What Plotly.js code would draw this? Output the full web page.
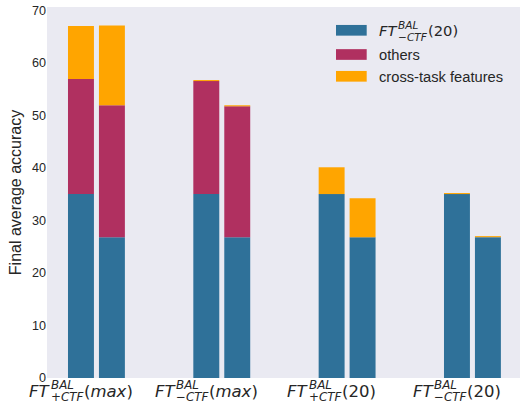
<!DOCTYPE html>
<html><head><meta charset="utf-8">
<script src="https://cdn.plot.ly/plotly-3.0.1.min.js"></script>
<style>html,body{margin:0;padding:0;background:#fff}#chart{width:520px;height:404px}</style>
</head><body><div id="chart"></div>
<script>
// ---- data ----
const categories = ["FT+CTF(max)", "FT-CTF(max)", "FT+CTF(20)", "FT-CTF(20)"];
const labelMain = ["FT", "FT", "FT", "FT"];
const labelSup = ["BAL", "BAL", "BAL", "BAL"];
const labelSub = ["+CTF", "\u2212CTF", "+CTF", "\u2212CTF"];
const labelTail = ["(max)", "(max)", "(20)", "(20)"];
const seriesNames = ["FT-CTF(20)", "others", "cross-task features"];
const legendMain = "FT", legendSup = "BAL", legendSub = "\u2212CTF", legendTail = "(20)";
const baseBar1 = [35.0, 35.0, 35.0, 35.0];
const baseBar2 = [26.8, 26.8, 26.8, 26.8];
const othersBar1 = [21.9, 21.5, 0, 0];
const othersBar2 = [25.1, 24.9, 0, 0];
const ctfBar1 = [10.1, 0.2, 5.1, 0.2];
const ctfBar2 = [15.2, 0.2, 7.4, 0.2];
const yTicks = [0, 10, 20, 30, 40, 50, 60, 70];
const colors = ["#2f7199", "#b03060", "#ffa500"];

// ---- geometry helpers (plot area in px) ----
const W = 520, H = 404;
const M = {l: 47, r: 0, t: 7, b: 26};
const X0 = M.l, X1 = W - M.r, Y0 = M.t, Y1 = H - M.b;
const px = x => (x - X0) / (X1 - X0);
const py = y => (Y1 - y) / (Y1 - Y0);
const TXT = "#262626";
const MATHFONT = "DejaVu Sans";
const SANS = "Liberation Sans";

const ctx = document.createElement("canvas").getContext("2d");
function tw(s, size, italic) {
  ctx.font = (italic ? "italic " : "") + size + 'px "' + MATHFONT + '"';
  return ctx.measureText(s).width;
}
function mathHtml(s) { return s.replace(/[A-Za-z]+/g, m => "<i>" + m + "</i>"); }
function mathWidth(s, size) {
  let w = 0;
  s.replace(/([A-Za-z]+)|([^A-Za-z]+)/g, (m, a) => { w += tw(m, size, !!a); return m; });
  return w;
}
// builds annotations for main^{sup}_{sub}tail
function mathLabel(anns, o) {
  const s = o.size, ss = o.size * 0.72;
  const wMain = mathWidth(o.main, s), wSup = mathWidth(o.sup, ss), wSub = mathWidth(o.sub, ss);
  const wTail = mathWidth(o.tail, s);
  const g1 = 0.1 * s, g2 = 0.06 * s;
  const total = wMain + g1 + Math.max(wSup, wSub) + g2 + wTail;
  let start = o.center ? -total / 2 : 0;
  const mk = (text, size, shift, baseline) => ({
    xref: o.xref, x: o.x, yref: "paper", y: py(baseline - 0.346 * size),
    xanchor: "left", yanchor: "middle", xshift: start + shift, showarrow: false,
    borderpad: 0, borderwidth: 0,
    text: mathHtml(text), font: {family: MATHFONT, size: size, color: TXT}
  });
  anns.push(mk(o.main, s, 0, o.baseline));
  anns.push(mk(o.sup, ss, wMain + g1, o.baseline - o.supUp * s));
  anns.push(mk(o.sub, ss, wMain + g1, o.baseline + o.subDown * s));
  anns.push(mk(o.tail, s, wMain + g1 + Math.max(wSup, wSub) + g2, o.baseline));
}

// ---- traces ----
const barDefs = [
  {seg: [baseBar1, othersBar1, ctfBar1], offset: -0.1035},
  {seg: [baseBar2, othersBar2, ctfBar2], offset: 0.1435}
];
const traces = [];
barDefs.forEach(b => {
  let cum = categories.map(() => 0);
  b.seg.forEach((vals, si) => {
    traces.push({
      type: "bar", x: categories, y: vals, base: cum.slice(),
      offset: b.offset, width: 0.207, name: seriesNames[si],
      marker: {color: colors[si], line: {width: 0}},
      showlegend: false, hoverinfo: "skip"
    });
    cum = cum.map((c, i) => c + vals[i]);
  });
});

// ---- annotations: x tick labels ----
const anns = [];
categories.forEach((c, i) => {
  mathLabel(anns, {xref: "x", x: c, center: true, baseline: 397.5, size: 16.5,
    supUp: 0.52, subDown: 0.2,
    main: labelMain[i], sup: labelSup[i], sub: labelSub[i], tail: labelTail[i]});
});

// ---- custom legend ----
const legRows = [30.3, 54.5, 76.3];
const shapes = [];
legRows.forEach((cy, i) => {
  shapes.push({type: "rect", xref: "paper", yref: "paper",
    x0: px(336), x1: px(366.7), y0: py(cy + 5.35), y1: py(cy - 5.35),
    fillcolor: colors[i], line: {width: 0}});
});
mathLabel(anns, {xref: "paper", x: px(379), center: false, baseline: 35.7, size: 14.7,
  supUp: 0.46, subDown: 0.32,
  main: legendMain, sup: legendSup, sub: legendSub, tail: legendTail});
[[seriesNames[1], 60], [seriesNames[2], 82.3]].forEach(([t, base]) => {
  anns.push({xref: "paper", x: px(379), yref: "paper", y: py(base - 0.3465 * 14.7),
    xanchor: "left", yanchor: "middle", showarrow: false, borderpad: 0, borderwidth: 0,
    text: t, font: {family: SANS, size: 14.7, color: TXT}});
});

const layout = {
  width: W, height: H, margin: M,
  paper_bgcolor: "#ffffff", plot_bgcolor: "#eaeaf2",
  barmode: "overlay", showlegend: false,
  font: {family: SANS, color: TXT},
  xaxis: {type: "category", categoryarray: categories, range: [-0.271, 3.503],
    showticklabels: false, showgrid: false, zeroline: false, ticks: "", showline: false},
  yaxis: {range: [0, 70.6], tickvals: yTicks, ticktext: yTicks.map(String),
    showgrid: false, zeroline: false, ticks: "", showline: false,
    tickfont: {family: SANS, size: 12.6, color: TXT},
    title: {text: "Final average accuracy", font: {family: SANS, size: 16, color: TXT}, standoff: 6}},
  annotations: anns, shapes: shapes
};
Plotly.newPlot("chart", traces, layout, {displayModeBar: false, staticPlot: true});
</script></body></html>
